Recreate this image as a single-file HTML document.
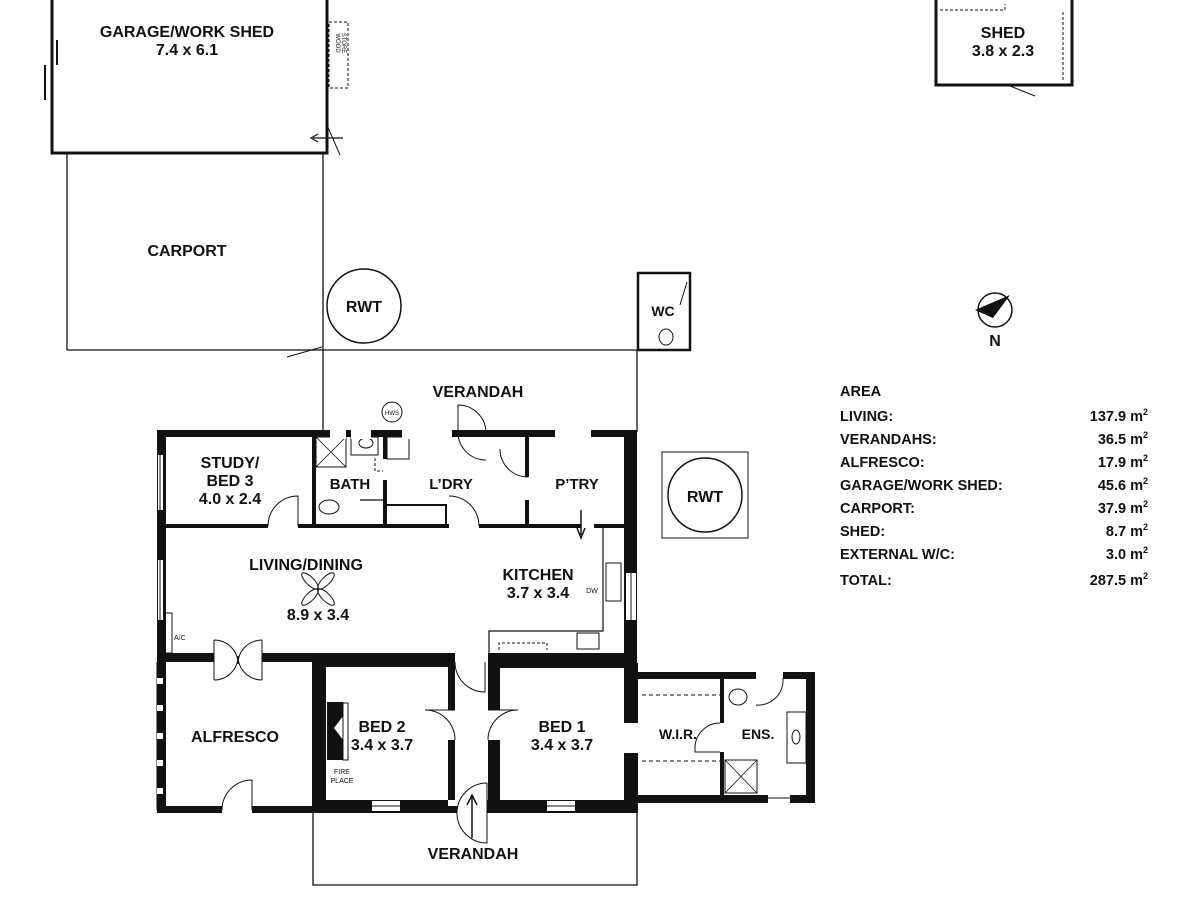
<!DOCTYPE html>
<html><head><meta charset="utf-8"><style>
html,body{margin:0;padding:0;background:#fff}
svg{display:block}
text{font-family:"Liberation Sans",sans-serif;font-weight:bold;fill:#111}
.l{font-size:16px;text-anchor:middle}
.t{font-size:14.5px}
.r{font-size:14.5px;text-anchor:end}
</style></head><body>
<svg width="1200" height="900" viewBox="0 0 1200 900" xmlns="http://www.w3.org/2000/svg">
<g fill="none" stroke="#111">
<path d="M52 0 V153 H327 V0" stroke-width="3"/>
<path d="M45 65 V100" stroke-width="2"/>
<path d="M57 40 V65" stroke-width="2"/>
<rect x="329" y="22" width="19" height="66" stroke-width="1" stroke-dasharray="3,2"/>
<path d="M313 138 H343 M318 134 L311 138 L318 142" stroke-width="1.2"/>
<path d="M327 125 L340 155" stroke-width="1"/>
<path d="M67 153 V350 H323 V153" stroke-width="1.3"/>
<path d="M287 357 L322 347" stroke-width="1"/>
<circle cx="364" cy="306" r="37" stroke-width="1.5"/>
<rect x="638" y="273" width="52" height="77" stroke-width="2.5"/>
<path d="M687 282 L680 305" stroke-width="1"/>
<ellipse cx="666" cy="337" rx="7" ry="8" stroke-width="1"/>
<path d="M323 350 V432 M323 350 H637 V432" stroke-width="1.3"/>
<circle cx="392" cy="412" r="10" stroke-width="1"/>
<path d="M458 432 V405 A28 28 0 0 1 486 432 M458 432 A28 28 0 0 0 486 460" stroke-width="1"/>
<rect x="662" y="452" width="86" height="86" stroke-width="1"/>
<circle cx="705" cy="495" r="37" stroke-width="1.5"/>
<rect x="936" y="-2" width="136" height="87" stroke-width="3"/>
<path d="M940 10 H1005 V4 M1063 12 V82" stroke-width="1" stroke-dasharray="3,2"/>
<path d="M1010 86 L1035 96" stroke-width="1"/>
<circle cx="995" cy="310" r="17" stroke-width="1.5"/>
<rect x="316" y="437" width="30" height="30" stroke-width="1"/>
<path d="M316 437 L346 467 M346 437 L316 467" stroke-width="0.8"/>
<rect x="351" y="437" width="27" height="18" stroke-width="1"/>
<ellipse cx="366" cy="443" rx="7" ry="5" stroke-width="1"/>
<rect x="387" y="437" width="22" height="22" stroke-width="1"/>
<ellipse cx="329" cy="507" rx="10" ry="7" stroke-width="1"/>
<path d="M375 458 V471 H383" stroke-width="1" stroke-dasharray="3,2"/>
<path d="M360 500 H383" stroke-width="1.2"/>
<path d="M387 505 H446 V526" stroke-width="2"/>
<path d="M268 526 A30 30 0 0 1 298 496 V526" stroke-width="1"/>
<path d="M449 496 A30 30 0 0 1 479 526" stroke-width="1"/>
<path d="M528 477 A28 28 0 0 1 500 449" stroke-width="1"/>
<path d="M455 662 A30 30 0 0 0 485 692 V662" stroke-width="1"/>
<path d="M455 740 A30 30 0 0 0 425 710 H455" stroke-width="1"/>
<path d="M488 740 A30 30 0 0 1 518 710 H488" stroke-width="1"/>
<path d="M487 783 A30 30 0 0 0 457 813 A30 30 0 0 0 487 843 V783" stroke-width="1"/>
<path d="M472 838 V797 M467 805 L472 795 L477 805" stroke-width="1.5"/>
<path d="M222 810 A30 30 0 0 1 252 780 V810" stroke-width="1"/>
<path d="M214 640 V680 M262 640 V680 M214 640 A24 24 0 0 1 238 664 A24 24 0 0 1 262 640 M214 680 A24 24 0 0 0 238 656 A24 24 0 0 0 262 680" stroke-width="1"/>
<path d="M603 527 V631 H489 V655" stroke-width="1.2"/>
<rect x="606" y="563" width="15" height="38" stroke-width="1"/>
<rect x="577" y="633" width="22" height="16" stroke-width="1"/>
<path d="M499 650 V643 H547 V650" stroke-width="1" stroke-dasharray="3,2"/>
<path d="M581 510 V535 M577 528 L581 538 L585 528" stroke-width="1.5"/>
<rect x="165" y="613" width="7" height="40" stroke-width="1"/>
<!-- ceiling fan -->
<g transform="translate(318,589)" stroke-width="1">
<ellipse cx="-8" cy="-8" rx="11" ry="4" transform="rotate(45 -8 -8)"/>
<ellipse cx="8" cy="8" rx="11" ry="4" transform="rotate(45 8 8)"/>
<ellipse cx="8" cy="-8" rx="11" ry="4" transform="rotate(-45 8 -8)"/>
<ellipse cx="-8" cy="8" rx="11" ry="4" transform="rotate(-45 -8 8)"/>
</g>
<rect x="343" y="703" width="5" height="57" stroke-width="1"/>
<path d="M157 662 V810" stroke-width="1"/>
<path d="M642 695 H720 M642 761 H720" stroke-width="1" stroke-dasharray="4,3"/>
<rect x="725" y="760" width="32" height="33" stroke-width="1"/>
<path d="M725 760 L757 793 M757 760 L725 793" stroke-width="0.8"/>
<rect x="787" y="712" width="19" height="51" stroke-width="1"/>
<ellipse cx="796" cy="737" rx="4" ry="7" stroke-width="1"/>
<ellipse cx="738" cy="697" rx="9" ry="8" stroke-width="1"/>
<path d="M756 705 A25 25 0 0 0 783 678 M720 752 H695 V748 A25 25 0 0 1 720 723" stroke-width="1"/>
<path d="M313 813 V885 H637 V805" stroke-width="1.3"/>
</g>
<g fill="#111">
<rect x="157" y="430" width="480" height="7"/>
<rect x="157" y="430" width="9" height="383"/>
<rect x="624" y="430" width="13" height="240"/>
<rect x="312" y="437" width="4" height="90"/>
<rect x="383" y="437" width="4" height="22"/>
<rect x="383" y="480" width="4" height="48"/>
<rect x="525" y="437" width="4" height="40"/>
<rect x="525" y="500" width="4" height="27"/>
<rect x="166" y="524" width="102" height="4"/>
<rect x="298" y="524" width="151" height="4"/>
<rect x="479" y="524" width="102" height="4"/>
<rect x="594" y="524" width="30" height="4"/>
<rect x="157" y="653" width="57" height="9"/>
<rect x="262" y="653" width="193" height="9"/>
<rect x="488" y="653" width="149" height="10"/>
<rect x="312" y="653" width="14" height="160"/>
<rect x="326" y="653" width="129" height="14"/>
<rect x="448" y="653" width="7" height="57"/>
<rect x="448" y="740" width="7" height="60"/>
<rect x="488" y="663" width="12" height="47"/>
<rect x="488" y="740" width="12" height="73"/>
<rect x="500" y="663" width="124" height="5"/>
<rect x="624" y="663" width="14" height="60"/>
<rect x="624" y="753" width="14" height="55"/>
<rect x="157" y="806" width="65" height="7"/>
<rect x="252" y="806" width="205" height="7"/>
<rect x="487" y="800" width="151" height="13"/>
<rect x="326" y="800" width="122" height="13"/>
<rect x="638" y="672" width="118" height="7"/>
<rect x="783" y="672" width="32" height="7"/>
<rect x="806" y="672" width="9" height="131"/>
<rect x="638" y="795" width="177" height="8"/>
<rect x="720" y="679" width="4" height="44"/>
<rect x="720" y="752" width="4" height="43"/>
<path d="M327 702 H343 V716 L334 728 L343 740 V760 H327 Z"/>
<path d="M975 310 L1010 295 L993 318 Z"/>
</g>
<g fill="#fff">
<rect x="330" y="428" width="16" height="11"/><rect x="351" y="428" width="20" height="11"/><rect x="402" y="428" width="50" height="11"/><rect x="555" y="428" width="36" height="11"/>
<rect x="372" y="801" width="28" height="10"/><rect x="547" y="801" width="28" height="10"/><rect x="768" y="793" width="22" height="10"/>
<rect x="157" y="678" width="6" height="6"/><rect x="157" y="705" width="6" height="6"/><rect x="157" y="733" width="6" height="6"/><rect x="157" y="760" width="6" height="6"/><rect x="157" y="788" width="6" height="6"/>
<rect x="626" y="573" width="10" height="47"/>
<rect x="158" y="455" width="5" height="55"/><rect x="158" y="560" width="5" height="60"/>
</g>
<g fill="none" stroke="#111" stroke-width="1">
<path d="M372 806 H400 M547 806 H575 M768 798 H790 M631 573 V620 M160 455 V510 M160 560 V620"/>
</g>
<text class="l" x="187" y="37">GARAGE/WORK SHED</text>
<text class="l" x="187" y="55">7.4 x 6.1</text>
<text x="336" y="43" style="font-size:6px;font-weight:normal" transform="rotate(90 336 43)" text-anchor="middle">WOOD</text>
<text x="342" y="43" style="font-size:6px;font-weight:normal" transform="rotate(90 342 43)" text-anchor="middle">STORE</text>
<text class="l" x="187" y="256">CARPORT</text>
<text class="l" x="364" y="312">RWT</text>
<text class="l" x="663" y="316" style="font-size:14px">WC</text>
<text class="l" x="478" y="397">VERANDAH</text>
<text x="392" y="415" style="font-size:6px;font-weight:normal" text-anchor="middle">HWS</text>
<text class="l" x="230" y="468">STUDY/</text>
<text class="l" x="230" y="486">BED 3</text>
<text class="l" x="230" y="504">4.0 x 2.4</text>
<text class="l" x="350" y="489" style="font-size:15px">BATH</text>
<text class="l" x="451" y="489" style="font-size:15px">L’DRY</text>
<text class="l" x="577" y="489" style="font-size:15px">P’TRY</text>
<text class="l" x="705" y="502">RWT</text>
<text class="l" x="306" y="570">LIVING/DINING</text>
<text class="l" x="318" y="620">8.9 x 3.4</text>
<text class="l" x="538" y="580">KITCHEN</text>
<text class="l" x="538" y="598">3.7 x 3.4</text>
<text x="592" y="593" style="font-size:7px;font-weight:normal" text-anchor="middle">DW</text>
<text x="174" y="640" style="font-size:7px;font-weight:normal">A/C</text>
<text class="l" x="235" y="742">ALFRESCO</text>
<text class="l" x="382" y="732">BED 2</text>
<text class="l" x="382" y="750">3.4 x 3.7</text>
<text x="342" y="774" style="font-size:7px;font-weight:normal" text-anchor="middle">FIRE</text>
<text x="342" y="783" style="font-size:7px;font-weight:normal" text-anchor="middle">PLACE</text>
<text class="l" x="562" y="732">BED 1</text>
<text class="l" x="562" y="750">3.4 x 3.7</text>
<text class="l" x="678" y="739" style="font-size:14px">W.I.R.</text>
<text class="l" x="758" y="739" style="font-size:14px">ENS.</text>
<text class="l" x="473" y="859">VERANDAH</text>
<text class="l" x="1003" y="38">SHED</text>
<text class="l" x="1003" y="56">3.8 x 2.3</text>
<text class="l" x="995" y="346">N</text>
<text class="t" x="840" y="396">AREA</text>
<text class="t" x="840" y="421">LIVING:</text>
<text class="t" x="840" y="444">VERANDAHS:</text>
<text class="t" x="840" y="467">ALFRESCO:</text>
<text class="t" x="840" y="490">GARAGE/WORK SHED:</text>
<text class="t" x="840" y="513">CARPORT:</text>
<text class="t" x="840" y="536">SHED:</text>
<text class="t" x="840" y="559">EXTERNAL W/C:</text>
<text class="t" x="840" y="585">TOTAL:</text>
<text class="r" x="1148" y="421">137.9 m<tspan dy="-6" style="font-size:9px">2</tspan></text>
<text class="r" x="1148" y="444">36.5 m<tspan dy="-6" style="font-size:9px">2</tspan></text>
<text class="r" x="1148" y="467">17.9 m<tspan dy="-6" style="font-size:9px">2</tspan></text>
<text class="r" x="1148" y="490">45.6 m<tspan dy="-6" style="font-size:9px">2</tspan></text>
<text class="r" x="1148" y="513">37.9 m<tspan dy="-6" style="font-size:9px">2</tspan></text>
<text class="r" x="1148" y="536">8.7 m<tspan dy="-6" style="font-size:9px">2</tspan></text>
<text class="r" x="1148" y="559">3.0 m<tspan dy="-6" style="font-size:9px">2</tspan></text>
<text class="r" x="1148" y="585">287.5 m<tspan dy="-6" style="font-size:9px">2</tspan></text>
</svg>
</body></html>
